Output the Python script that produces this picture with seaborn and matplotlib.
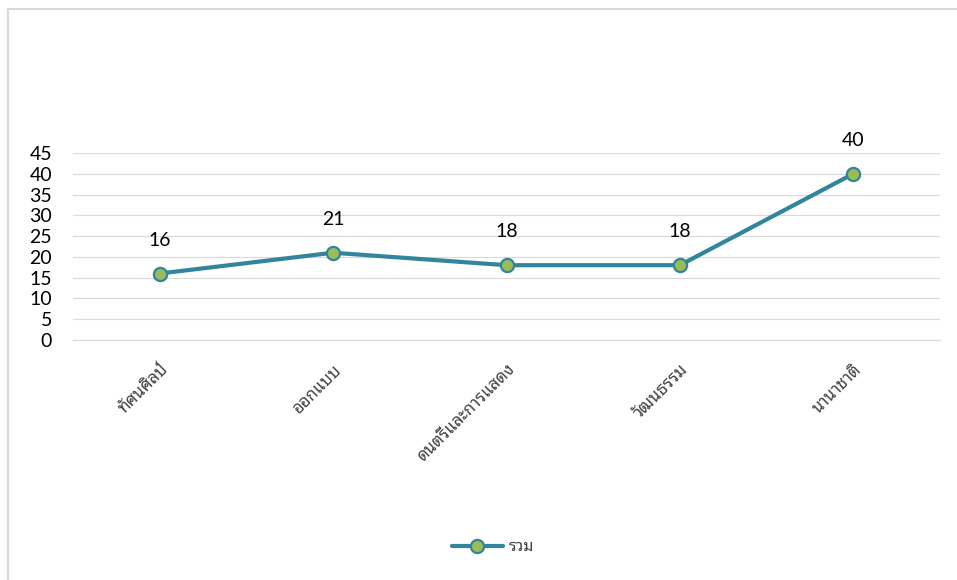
import matplotlib
matplotlib.use("Agg")
import matplotlib.pyplot as plt
import seaborn as sns
import pandas as pd
from matplotlib.lines import Line2D

# data
categories = ["ทัศนศิลป์", "ออกแบบ", "ดนตรีและการแสดง", "วัฒนธรรม", "นานาชาติ"]
values = [16, 21, 18, 18, 40]
series_name = "รวม"
y_ticks = [0, 5, 10, 15, 20, 25, 30, 35, 40, 45]

df = pd.DataFrame({"category": categories, "value": values})

sns.set_style("white")
plt.rcParams['font.family'] = ['Lato', 'Noto Sans Thai Looped', 'DejaVu Sans']

line_col = "#31859C"
marker_col = "#9BBB59"

fig = plt.figure(figsize=(9.57, 5.8), dpi=100)
ax = fig.add_axes([73 / 957, 1 - 340 / 580, (940 - 73) / 957, (340 - 153) / 580])

sns.lineplot(data=df, x="category", y="value", ax=ax, color=line_col,
             linewidth=3, marker="o", markersize=9.5,
             markerfacecolor=marker_col, markeredgecolor=line_col,
             markeredgewidth=1.6, sort=False, zorder=3)

ax.set_xlim(-0.5, len(categories) - 0.5)
ax.set_ylim(0, 45)
ax.set_yticks(y_ticks)
ax.set_yticklabels([str(t) for t in y_ticks], fontsize=14, color="#000000")
ax.yaxis.grid(True, color="#D9D9D9", linewidth=0.8)
ax.set_axisbelow(True)
for s in ax.spines.values():
    s.set_visible(False)
ax.tick_params(axis='y', length=0, pad=15)
ax.tick_params(axis='x', length=0, pad=15)
ax.set_xticks(range(len(categories)))
ax.set_xticklabels(categories, rotation=45, ha='right', rotation_mode='anchor',
                   fontsize=12, color="#404040")
ax.set_xlabel("")
ax.set_ylabel("")
# zero gridline, kept unclipped so it shows at full strength
ax.axhline(0, color="#D9D9D9", linewidth=0.8, zorder=1, clip_on=False)

for i, v in enumerate(values):
    ax.annotate(str(v), (i, v), textcoords="offset points", xytext=(0, 24),
                ha='center', va='center', fontsize=14, color="#000000")

handle = Line2D([], [], color=line_col, linewidth=3, marker="o", markersize=9.5,
                markerfacecolor=marker_col, markeredgecolor=line_col,
                markeredgewidth=1.6)
fig.legend(handles=[handle], labels=[series_name], loc='center',
           bbox_to_anchor=(493 / 957, 1 - 547 / 580), frameon=False,
           fontsize=11.5, handlelength=3.2, handletextpad=0.4,
           labelcolor="#404040")

# outer chart border (left and top edges only visible in the reference)
fig.add_artist(Line2D([8 / 957, 8 / 957], [0, 1 - 9 / 580], color="#D9D9D9",
                      linewidth=1.5, transform=fig.transFigure))
fig.add_artist(Line2D([8 / 957, 1], [1 - 9 / 580, 1 - 9 / 580], color="#D9D9D9",
                      linewidth=1.5, transform=fig.transFigure))

fig.savefig("out.png", dpi=100)
